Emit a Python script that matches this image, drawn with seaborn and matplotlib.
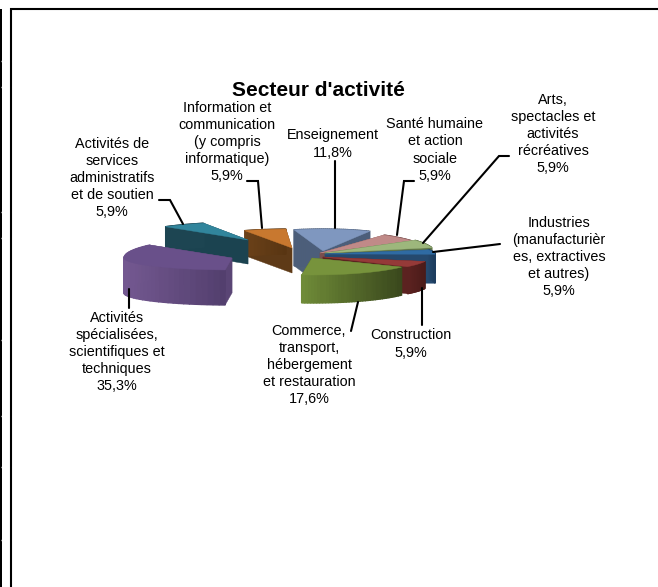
# -*- coding: utf-8 -*-
#%%

## Import Libraries
import numpy as np
import matplotlib
matplotlib.use('Agg')
import matplotlib.pyplot as plt
import seaborn as sns

#%%
# Data

sectors = ['Enseignement', 'Santé humaine\net action\nsociale',
           'Arts,\nspectacles et\nactivités\nrécréatives',
           'Industries\n(manufacturièr\nes, extractives\net autres)',
           'Construction',
           'Commerce,\ntransport,\nhébergement\net restauration',
           'Activités\nspécialisées,\nscientifiques et\ntechniques',
           'Activités de\nservices\nadministratifs\net de soutien',
           'Information et\ncommunication\n(y compris\ninformatique)']
shares = [11.8, 5.9, 5.9, 5.9, 5.9, 17.6, 35.3, 5.9, 5.9]

#%%
# Look of each wedge (the pie is squashed and each slice pulled out by hand)

apex_x = [323, 320, 325, 325, 323, 312, 232, 248, 292]
apex_y = [251, 253, 253, 254, 257, 258, 258, 240, 248]
radius_x = [105, 110, 110, 110, 106, 106, 108, 122, 115]
radius_back = [22, 22, 22, 12, 16, 17, 20, 18, 19]
radius_front = [22, 22, 22, 12, 16, 17, 12, 18, 19]
depth = [36, 25, 25, 29, 27, 28, 35, 24, 25]
rotation = [-16, -7, -9, -15, 0, -5, -7, 0, -3]
draw_order = [0, 1, 2, 3, 4, 5, 8, 7, 6]

top_colors = ['#7f97bf', '#c08a88', '#9db77c', '#2f6ba3', '#953a38',
              '#77933c', '#69508a', '#31859c', '#c8782f']
wall_left = ['#4c5e7a', '#7a4f4e', '#5f7548', '#25496e', '#5c2220',
             '#6f8b38', '#735890', '#1d4552', '#6b4119']
wall_right = ['#4c5e7a', '#7a4f4e', '#5f7548', '#1d3d5e', '#4a1b19',
              '#39471c', '#533f6e', '#1d4552', '#583512']
cut_colors = ['#4e6079', '#7a4f4e', '#5f7548', '#25496e', '#5c2220',
              '#4d6128', '#5a4575', '#1b4350', '#5e3a17']

# label centres and leader lines, in pixels
label_x = [333, 435, 553, 559, 411, 309, 117, 112, 227]
label_y = [144, 150, 134, 257, 344, 365, 352, 178, 142]
leader_x = [[335, 335], [414, 404, 397], [509, 499, 423], [500, 492, 433],
            [422, 422], [351, 358], [129, 129], [159, 170, 183], [247, 258, 262]]
leader_y = [[161, 228], [181, 181, 235], [156, 156, 243], [244, 245, 252],
            [325, 288], [331, 302], [308, 289], [200, 200, 224], [181, 181, 228]]

# white nicks in the black strip on the left edge
nick_y = [61, 87, 212, 238, 340, 416, 467, 540]

#%%

sns.set_theme(style='white')
plt.rcParams['font.family'] = ['Liberation Sans', 'DejaVu Sans']

fig = plt.figure(figsize=(6.58, 5.87), dpi=100)
ax = fig.add_axes([0, 0, 1, 1])
ax.set_xlim(0, 658)
ax.set_ylim(587, 0)
ax.axis('off')

# page frame
ax.fill([0, 2, 2, 0], [9, 9, 587, 587], color='black', lw=0)
ax.hlines(nick_y, 1, 2, color='white', lw=1)
ax.plot([11, 11, 658], [587, 9, 9], color='black', lw=1.5, solid_joinstyle='miter')


def project(i, deg):
    t = np.radians(deg + rotation[i])
    ry = np.where(np.cos(t) > 0, radius_back[i], radius_front[i])
    return apex_x[i] + radius_x[i] * np.sin(t), apex_y[i] - ry * np.cos(t)


edges = np.cumsum([0] + shares) / sum(shares) * 360

for i in draw_order:
    angles = np.linspace(edges[i], edges[i + 1], 40)
    xs, ys = project(i, angles)
    d = depth[i]

    # the two straight cuts
    for k in [0, -1]:
        ax.fill([apex_x[i], xs[k], xs[k], apex_x[i]],
                [apex_y[i], ys[k], ys[k] + d, apex_y[i] + d],
                color=cut_colors[i], lw=0.3, zorder=2)

    # the curved wall, shaded from left to right
    shades = sns.blend_palette([wall_left[i], wall_right[i]], 30)
    low, high = xs.min(), xs.max()
    for k in range(len(xs) - 1):
        pos = (xs[k] - low) / max(high - low, 1)
        ax.fill([xs[k], xs[k + 1], xs[k + 1], xs[k]],
                [ys[k], ys[k + 1], ys[k + 1] + d, ys[k] + d],
                color=shades[int(pos * 29)], lw=1, zorder=2)

    # top face
    ax.fill(np.r_[apex_x[i], xs], np.r_[apex_y[i], ys],
            color=top_colors[i], lw=0.3, zorder=2)

    ax.plot(leader_x[i], leader_y[i], color='black', lw=1.5, zorder=3,
            solid_joinstyle='miter')
    pct = f'{shares[i]:.1f}'.replace('.', ',') + '%'
    ax.text(label_x[i], label_y[i], sectors[i] + '\n' + pct, ha='center', va='center',
            fontsize=10.4, linespacing=1.28, color='black', zorder=4)

ax.text(318, 90, "Secteur d'activité", ha='center', va='center',
        fontsize=15, fontweight='bold', color='black')

fig.savefig('out.png', dpi=100)
